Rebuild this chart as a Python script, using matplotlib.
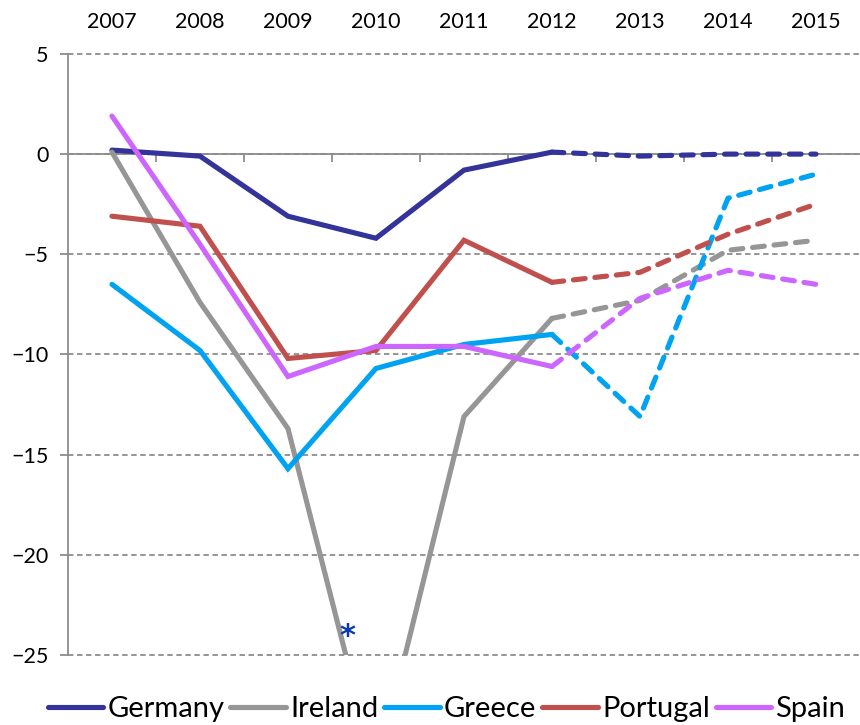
import matplotlib
matplotlib.use("Agg")
import matplotlib.pyplot as plt
import numpy as np

plt.rcParams['font.family'] = ['Lato', 'DejaVu Sans']

years = ['2007', '2008', '2009', '2010', '2011', '2012', '2013', '2014', '2015']
countries = ['Germany', 'Ireland', 'Greece', 'Portugal', 'Spain']
colors = ['#333399', '#969696', '#00A2F2', '#C0504D', '#CC66FF']

# outturn 2007-2012 (solid), forecast 2012-2015 (dashed)
germany_actual = [0.2, -0.1, -3.1, -4.2, -0.8, 0.1]
germany_fcst = [0.1, -0.1, 0.0, 0.0]
ireland_actual = [0.1, -7.4, -13.7, -30.9, -13.1, -8.2]
ireland_fcst = [-8.2, -7.3, -4.8, -4.3]
greece_actual = [-6.5, -9.8, -15.7, -10.7, -9.5, -9.0]
greece_fcst = [-9.0, -13.1, -2.2, -1.0]
portugal_actual = [-3.1, -3.6, -10.2, -9.8, -4.3, -6.4]
portugal_fcst = [-6.4, -5.9, -4.0, -2.5]
spain_actual = [1.9, -4.5, -11.1, -9.6, -9.6, -10.6]
spain_fcst = [-10.6, -7.2, -5.8, -6.5]

actual = [germany_actual, ireland_actual, greece_actual, portugal_actual, spain_actual]
fcst = [germany_fcst, ireland_fcst, greece_fcst, portugal_fcst, spain_fcst]

# Ireland 2010 is off the scale, marked with an asterisk
star_x = 2.67
star_y = -24.1

fig = plt.figure(figsize=(8.6, 7.25), dpi=100)
ax = fig.add_axes([0.079, 0.0966, 0.921, 0.829])

x = np.arange(len(years))
lw = 3.7
for name, col, a, f in zip(countries, colors, actual, fcst):
    ax.plot(x[:len(a)], a, color=col, lw=lw, solid_capstyle='round',
            solid_joinstyle='miter', label=name, zorder=3)
    ax.plot(x[len(a) - 1:], f, color=col, lw=lw, linestyle=(0, (2.3, 1.9)),
            dash_capstyle='round', zorder=3)

ax.text(star_x, star_y, '*', color='#0A3AA8', fontsize=22, fontweight='bold',
        ha='center', va='center', family='DejaVu Sans', zorder=5)

ax.set_xlim(-0.5, len(years) - 0.5)
ax.set_ylim(-25, 5)
ax.set_yticks(np.arange(-25, 6, 5))
ax.set_xticks(x)
ax.set_xticklabels(years)
ax.set_xticks(x[:-1] + 0.5, minor=True)

ax.yaxis.grid(True, color='#8C8C8C', linestyle=(0, (3, 2)), lw=1.3)
for line in ax.get_ygridlines():
    line.set_clip_on(False)
ax.set_axisbelow(True)

ax.spines['top'].set_visible(False)
ax.spines['right'].set_visible(False)
ax.spines['bottom'].set_position(('data', 0))
ax.spines['bottom'].set_color('#8C8C8C')
ax.spines['bottom'].set_linewidth(1.3)
ax.spines['left'].set_color('#8C8C8C')
ax.spines['left'].set_linewidth(1.3)

ax.tick_params(axis='x', which='major', bottom=False, top=False,
               labelbottom=False, labeltop=True, labelsize=15.5, pad=12)
ax.tick_params(axis='x', which='minor', bottom=True, top=False, length=6,
               width=1.3, color='#8C8C8C', direction='out')
ax.tick_params(axis='y', length=6, width=1.3, color='#8C8C8C', labelsize=15.5, pad=8)

ax.legend(loc='upper center', bbox_to_anchor=(0.478, -0.068), ncol=5, frameon=False,
          fontsize=21, handlelength=1.9, handletextpad=0.15, columnspacing=0.2,
          borderaxespad=0, borderpad=0)

fig.savefig('out.png', dpi=100)
